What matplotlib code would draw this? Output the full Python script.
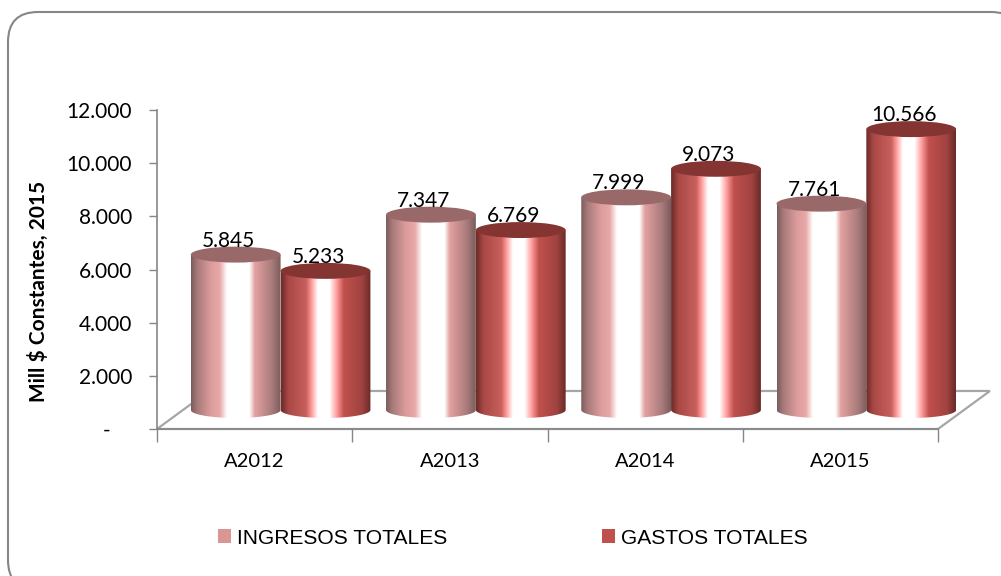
import numpy as np
import matplotlib
matplotlib.use('Agg')
import matplotlib.pyplot as plt
from matplotlib.colors import LinearSegmentedColormap
from matplotlib.patches import Ellipse, FancyBboxPatch, Polygon, Rectangle
from matplotlib.transforms import IdentityTransform

categories = ['A2012', 'A2013', 'A2014', 'A2015']
ingresos = [5845, 7347, 7999, 7761]
gastos = [5233, 6769, 9073, 10566]
ingresos_labels = ['5.845', '7.347', '7.999', '7.761']
gastos_labels = ['5.233', '6.769', '9.073', '10.566']
y_ticks = [0, 2000, 4000, 6000, 8000, 10000, 12000]
y_tick_labels = ['-    ', '2.000', '4.000', '6.000', '8.000', '10.000', '12.000']
series_names = ['INGRESOS TOTALES', 'GASTOS TOTALES']

W, H = 1001, 576
GRAY = '#868686'
FONT = 'Lato'

light_cmap = LinearSegmentedColormap.from_list('light', [
    (0.00, '#7a5c5c'), (0.07, '#a87a7a'), (0.22, '#dc9c9c'), (0.32, '#e8a8a8'), (0.40, '#ffffff'),
    (0.65, '#ffffff'), (0.71, '#e3a1a1'), (0.90, '#aa7b7b'), (1.00, '#7a5c5c')])
dark_cmap = LinearSegmentedColormap.from_list('dark', [
    (0.00, '#6a2a28'), (0.08, '#a84845'), (0.28, '#c8605d'), (0.34, '#ff9c9c'),
    (0.41, '#ffffff'), (0.54, '#ffffff'), (0.62, '#ff9c9c'), (0.70, '#c0504d'),
    (0.90, '#a04341'), (1.00, '#6a2a28')])

fig = plt.figure(figsize=(W / 100, H / 100), dpi=100)
ax = fig.add_axes([157 / W, 1 - 429 / H, (938 - 157) / W, (429 - 110) / H])
ax.patch.set_alpha(0)

# marco redondeado del grafico
frame = FancyBboxPatch((38, 16), 953, 518, boxstyle='round,pad=30,rounding_size=30',
                       transform=IdentityTransform(), fc='white', ec=GRAY, lw=1.5)
fig.add_artist(frame)
frame.set_zorder(-5)

ax.set_xlim(0, 4)
ax.set_ylim(0, 12000)

# profundidad del piso en unidades de datos
depth_x, depth_y = 0.266, 1430
floor = Polygon([(0, 0), (4, 0), (4 + depth_x, depth_y), (depth_x, depth_y)], closed=True,
                fc='none', ec='#a6a6a6', lw=1.6, clip_on=False, zorder=1)
ax.add_patch(floor)

bar_w = 0.46
ell_h = 600  # alto total de la elipse, en unidades de datos
label_dx = -0.037
label_dy = 530


def cylinder(xc, value, cmap, top_color):
    y0 = depth_y / 2
    y1 = y0 + value
    x0, x1 = xc - bar_w / 2, xc + bar_w / 2
    t = np.linspace(np.pi, 2 * np.pi, 60)
    arc = np.column_stack([xc + bar_w / 2 * np.cos(t), y0 + ell_h / 2 * np.sin(t)])
    outline = np.vstack([[[x0, y1]], arc, [[x1, y1]]])
    grad = np.linspace(0, 1, 256).reshape(1, -1)
    im = ax.imshow(grad, cmap=cmap, extent=(x0, x1, y0 - ell_h / 2, y1), aspect='auto', zorder=2)
    im.set_clip_box(fig.bbox)
    im.set_clip_path(Polygon(outline, closed=True, transform=ax.transData))
    top = Ellipse((xc, y1), bar_w, ell_h, fc=top_color, ec='none', zorder=2.5, clip_on=False)
    ax.add_patch(top)


for i in range(len(categories)):
    center = i + 0.5 + depth_x / 2
    cylinder(center - bar_w / 2, ingresos[i], light_cmap, '#996868')
    cylinder(center + bar_w / 2, gastos[i], dark_cmap, '#843431')
    ax.text(center - bar_w / 2 + label_dx, ingresos[i] + depth_y / 2 + label_dy, ingresos_labels[i],
            ha='center', va='center', fontsize=15, family=FONT, color='black', zorder=5)
    ax.text(center + bar_w / 2 + label_dx, gastos[i] + depth_y / 2 + label_dy, gastos_labels[i],
            ha='center', va='center', fontsize=15, family=FONT, color='black', zorder=5)

ax.set_xlim(0, 4)
ax.set_ylim(0, 12000)

for side in ['top', 'right']:
    ax.spines[side].set_visible(False)
for side in ['left', 'bottom']:
    ax.spines[side].set_color(GRAY)
    ax.spines[side].set_linewidth(1.2)

ax.set_yticks(y_ticks)
ax.set_yticklabels(y_tick_labels, family=FONT, fontsize=15)
ax.set_xticks(range(5))
ax.set_xticklabels([])
ax.set_xticks(np.arange(4) + 0.5, minor=True)
ax.set_xticklabels(categories, minor=True, family=FONT, fontsize=14.5)
ax.tick_params(axis='x', which='minor', length=0, pad=17)
ax.tick_params(axis='x', which='major', length=9, width=1, color=GRAY, pad=2)
ax.tick_params(axis='y', length=6, width=1, color=GRAY, pad=12)
ax.set_ylabel('Mill $ Constantes, 2015', family=FONT, fontsize=15, fontweight='bold')
ax.yaxis.set_label_coords((49 - 157) / (938 - 157), 0.43)

handles = [Rectangle((0, 0), 1, 1, fc='#d99694'), Rectangle((0, 0), 1, 1, fc='#c0504d')]
fig.legend(handles, series_names, loc='center', bbox_to_anchor=(513 / W, 1 - 538 / H), ncol=2, frameon=False,
           prop={'family': 'Liberation Sans', 'size': 15.1}, handlelength=0.6, handleheight=0.6,
           handletextpad=0.3, columnspacing=7.4)

fig.savefig('out.png', dpi=100)
